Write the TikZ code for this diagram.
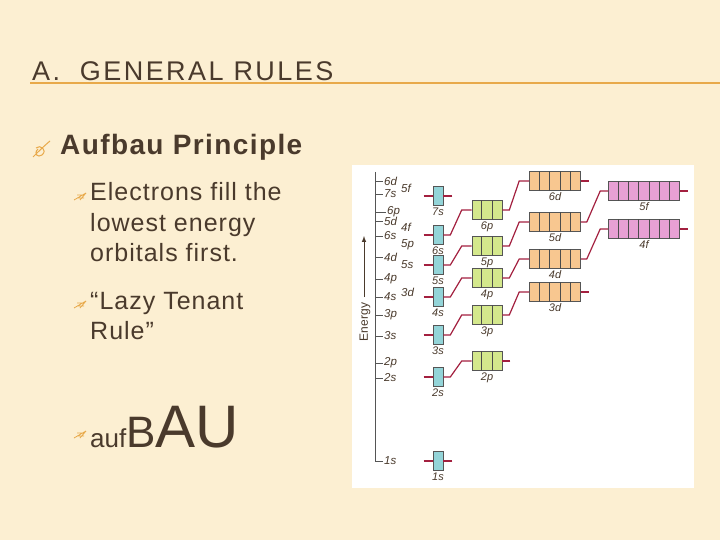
\documentclass[tikz,border=0pt]{standalone}
\usepackage{fontspec}
\setmainfont{Liberation Sans}
\definecolor{bg}{HTML}{FCEFD2}
\definecolor{txt}{HTML}{4A3A2C}
\definecolor{gold}{HTML}{E8A94A}
\definecolor{sbl}{HTML}{93D4D8}
\definecolor{pgr}{HTML}{D4E88C}
\definecolor{dor}{HTML}{F8C790}
\definecolor{fpk}{HTML}{E8A0D4}
\definecolor{wire}{HTML}{A3203F}
\definecolor{axg}{HTML}{555555}
\newcommand\orb[7]{% name,x,y,width,n,color,label
  \node[draw=axg,line width=0.6pt,fill=#6,minimum width=#4pt,minimum height=19pt,inner sep=0pt] (#1) at (#2,#3) {};
  \foreach \k in {1,...,#5} {\ifnum\k<#5\draw[line width=0.9pt,black!70] ($(#1.south west)!\k/#5!(#1.south east)$) -- ($(#1.north west)!\k/#5!(#1.north east)$);\fi}
  \node[lab,below=1pt] (#1l) at (#1.south) {#7};}
\begin{document}
\begin{tikzpicture}[x=1pt,y=-1pt,
  lab/.style={font=\fontsize{11}{11}\selectfont\itshape,text=txt,inner sep=1pt},
  tick/.style={font=\fontsize{11.5}{10}\selectfont\itshape,text=txt,inner sep=0pt,anchor=west},
  wr/.style={wire,line width=1.2pt},
  body/.style={text=txt,anchor=base west,inner sep=0pt},
  sub/.style={body,font=\fontsize{25}{30}\selectfont\addfontfeature{LetterSpace=4}}]
\usetikzlibrary{calc,positioning}
\fill[bg] (0,0) rectangle (720,540);
\useasboundingbox (0,0) rectangle (720,540);
% title
\node[body,font=\fontsize{27}{27}\selectfont\addfontfeature{LetterSpace=9}] (title) at (32,81) {A.\ \ GENERAL RULES};
\draw[gold,line width=1.2pt] (30,83) -- (720,83);
% bullets
\node[body,font=\fontsize{28}{28}\selectfont\bfseries\addfontfeature{LetterSpace=5}] (b1) at (60,155) {Aufbau Principle};
\draw[gold,line width=1pt] (33,157) .. controls (38,152) and (44,146) .. (50,141) (36,148) .. controls (40,144) and (48,150) .. (42,155) .. controls (38,158) and (33,154) .. (38,149);
\node[sub] (b2a) at (90,201) {Electrons fill the};
\node[sub] (b2b) at (90,231) {lowest energy};
\node[sub] (b2c) at (90,261) {orbitals first.};
\node[sub] (b3a) at (90,309) {“Lazy Tenant};
\node[sub] (b3b) at (90,339) {Rule”};
\node[body] (b4) at (90,447) {\fontsize{26}{26}\selectfont auf\fontsize{44}{44}\selectfont B\fontsize{60}{60}\selectfont AU};
\foreach \yy in {200,308,438} {
  \draw[gold,line width=0.8pt] (74,\yy) -- (86,\yy-7) (77,\yy-5) -- (84,\yy-5) (78,\yy-2) -- (84,\yy-2) (86,\yy-7) -- (80,\yy);}
% panel
\fill[white] (352,165) rectangle (694,488);
% axis
\draw[axg,line width=0.8pt] (375,172) -- (375,461) -- (381,461);
\draw[-latex,txt,line width=1pt] (364,297) -- (364,236);
\node[rotate=90,font=\fontsize{12}{12}\selectfont,text=txt] (en) at (365,322) {Energy};
\foreach \lbl/\yy/\xx in {6d/181/383,7s/194/383,6p/212/386,5d/221/383,6s/236/383,4d/257/383,4p/279/383,4s/297/383,3p/315/383,3s/336/383,2p/363/383,2s/378/383,1s/461/383}
  {\draw[axg,line width=0.6pt] (375,\yy) -- (\xx,\yy); \node[tick] at (\xx+1,\yy) {\lbl};}
\foreach \lbl/\yy in {5f/188,4f/227,5p/245,5s/265,3d/292}
  {\node[tick] at (401,\yy) {\lbl};}
% orbitals
\orb{s7}{438}{196}{10}{1}{sbl}{7s}
\orb{s6}{438}{235}{10}{1}{sbl}{6s}
\orb{s5}{438}{265}{10}{1}{sbl}{5s}
\orb{s4}{438}{297}{10}{1}{sbl}{4s}
\orb{s3}{438}{335}{10}{1}{sbl}{3s}
\orb{s2}{438}{377}{10}{1}{sbl}{2s}
\orb{s1}{438}{461}{10}{1}{sbl}{1s}
\orb{p6}{487}{210}{30}{3}{pgr}{6p}
\orb{p5}{487}{246}{30}{3}{pgr}{5p}
\orb{p4}{487}{278}{30}{3}{pgr}{4p}
\orb{p3}{487}{315}{30}{3}{pgr}{3p}
\orb{p2}{487}{361}{30}{3}{pgr}{2p}
\orb{d6}{555}{181}{51}{5}{dor}{6d}
\orb{d5}{555}{222}{51}{5}{dor}{5d}
\orb{d4}{555}{259}{51}{5}{dor}{4d}
\orb{d3}{555}{292}{51}{5}{dor}{3d}
\orb{f5}{644}{191}{71}{7}{fpk}{5f}
\orb{f4}{644}{229}{71}{7}{fpk}{4f}
% stubs
\foreach \n in {s7,s1} {\draw[wr] ([xshift=-9pt]\n.west) -- (\n.west) ([xshift=9pt]\n.east) -- (\n.east);}
\foreach \n in {s6,s5,s4,s3,s2} {\draw[wr] ([xshift=-9pt]\n.west) -- (\n.west);}
\draw[wr] ([xshift=8pt]p2.east) -- (p2.east);
\draw[wr] ([xshift=8pt]d6.east) -- (d6.east);
\draw[wr] ([xshift=8pt]d3.east) -- (d3.east);
\foreach \n in {f5,f4} {\draw[wr] ([xshift=8pt]\n.east) -- (\n.east);}
% connectors
\foreach \a/\b in {s6/p6,s5/p5,s4/p4,s3/p3,s2/p2,p6/d6,p5/d5,p4/d4,p3/d3}
  {\draw[wr] (\a.east) -- ++(7,0) -- ([xshift=-10pt]\b.west) -- (\b.west);}
\foreach \a/\b in {d5/f5,d4/f4}
  {\draw[wr] (\a.east) -- ++(6,0) -- ([xshift=-8pt]\b.west) -- (\b.west);}
\end{tikzpicture}
\end{document}
